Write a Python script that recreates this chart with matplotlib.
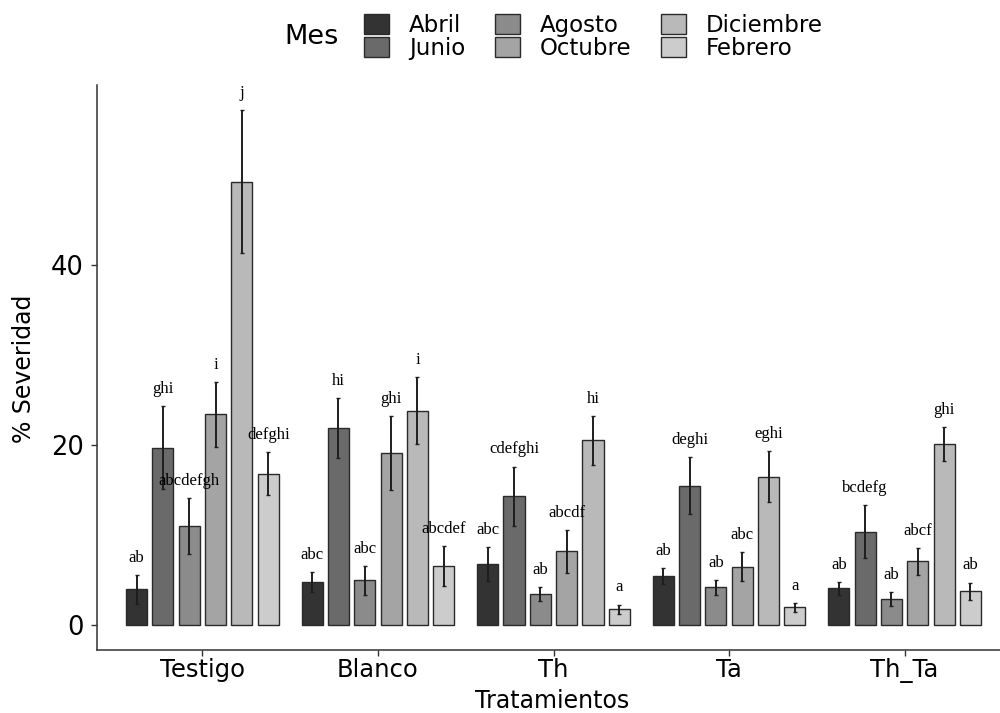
import numpy as np
import matplotlib
matplotlib.use("Agg")
import matplotlib.pyplot as plt
from matplotlib.patches import Patch

# Data
tratamientos = ["Testigo", "Blanco", "Th", "Ta", "Th_Ta"]
meses = ["Abril", "Junio", "Agosto", "Octubre", "Diciembre", "Febrero"]
colores = ["#333333", "#6A6A6A", "#8B8B8B", "#A4A4A4", "#B9B9B9", "#CCCCCC"]

# mean severity per month (rows) for each treatment (columns)
abril = [4.0, 4.8, 6.8, 5.5, 4.1]
junio = [19.7, 21.9, 14.3, 15.5, 10.4]
agosto = [11.0, 5.0, 3.5, 4.2, 2.9]
octubre = [23.4, 19.1, 8.2, 6.5, 7.1]
diciembre = [49.2, 23.8, 20.5, 16.5, 20.1]
febrero = [16.8, 6.6, 1.8, 2.0, 3.8]

# standard errors
se_abril = [1.6, 1.1, 1.9, 0.9, 0.7]
se_junio = [4.6, 3.3, 3.3, 3.2, 2.9]
se_agosto = [3.1, 1.6, 0.75, 0.8, 0.8]
se_octubre = [3.6, 4.1, 2.4, 1.6, 1.5]
se_diciembre = [7.9, 3.7, 2.7, 2.8, 1.85]
se_febrero = [2.4, 2.2, 0.5, 0.5, 0.95]

# Tukey letters
let_abril = ["ab", "abc", "abc", "ab", "ab"]
let_junio = ["ghi", "hi", "cdefghi", "deghi", "bcdefg"]
let_agosto = ["abcdefgh", "abc", "ab", "ab", "ab"]
let_octubre = ["i", "ghi", "abcdf", "abc", "abcf"]
let_diciembre = ["j", "i", "hi", "eghi", "ghi"]
let_febrero = ["defghi", "abcdef", "a", "a", "ab"]

medias = [abril, junio, agosto, octubre, diciembre, febrero]
errores = [se_abril, se_junio, se_agosto, se_octubre, se_diciembre, se_febrero]
letras = [let_abril, let_junio, let_agosto, let_octubre, let_diciembre, let_febrero]

plt.rcParams["font.family"] = "DejaVu Sans"

fig = plt.figure(figsize=(10, 7.13), dpi=100)
ax = fig.add_axes([0.097, 0.0877, 0.913, 0.7931])

x = np.arange(len(tratamientos))
slot = 0.9 / len(meses)
ancho = slot * 0.8

for j, mes in enumerate(meses):
    pos = x + (j - (len(meses) - 1) / 2) * slot
    ax.bar(pos, medias[j], width=ancho, color=colores[j], edgecolor="#2a2a2a",
           linewidth=1.0, zorder=2)
    ax.errorbar(pos, medias[j], yerr=errores[j], fmt="none", ecolor="#1e1e1e",
                elinewidth=1.4, capsize=1.5, capthick=1.0, zorder=3)
    for k in range(len(tratamientos)):
        ax.text(pos[k], medias[j][k] + errores[j][k] + 1.9, letras[j][k],
                ha="center", va="center", fontsize=12,
                family="Liberation Serif", color="black", zorder=4)

ax.set_xlim(-0.6, 4.6)
ax.set_ylim(-2.78, 59.9)
ax.set_yticks([0, 20, 40])
ax.set_xticks(x)
ax.set_xticklabels(tratamientos)

for s in ["top", "right"]:
    ax.spines[s].set_visible(False)
for s in ["left", "bottom"]:
    ax.spines[s].set_color("#333333")
    ax.spines[s].set_linewidth(1.1)

ax.tick_params(axis="y", labelsize=18.5, length=4.5, width=1.0, color="#333333", pad=5)
ax.tick_params(axis="x", labelsize=17.5, length=4, width=1.0, color="#333333", pad=1.5)

fig.text(0.024, 0.483, "% Severidad", rotation=90, ha="center", va="center", fontsize=17)
fig.text(0.5525, 0.0, "Tratamientos", ha="center", va="bottom", fontsize=17)

# legend with title on the left
handles = [Patch(facecolor=c, edgecolor="#2a2a2a", linewidth=1.0) for c in colores]
fig.legend(handles, meses, ncol=3, loc="upper left",
           bbox_to_anchor=(0.364, 1 - 14 / 713), frameon=False, fontsize=16.5,
           labelspacing=0.0, handlelength=1.1, handleheight=0.92,
           handletextpad=0.85, columnspacing=1.3, borderpad=0, borderaxespad=0)
fig.text(0.284, 1 - 37.5 / 713, "Mes", ha="left", va="center", fontsize=19.5)

fig.savefig("out.png", dpi=100)
